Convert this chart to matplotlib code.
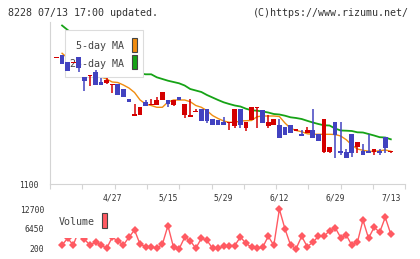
import matplotlib
matplotlib.use("Agg")
import matplotlib.pyplot as plt
import numpy as np
from matplotlib.patches import Rectangle

# ---------------- data ----------------
opens = [1226, 1229, 1222, 1221, 1227, 1207, 1208, 1212, 1202, 1201,
         1199, 1200, 1195, 1185, 1168, 1169, 1182, 1179, 1179, 1184,
         1184, 1179, 1187, 1169, 1167, 1172, 1175, 1175, 1165, 1164,
         1162, 1161, 1158, 1175, 1156, 1164, 1176, 1174, 1158, 1159,
         1159, 1157, 1159, 1153, 1150, 1151, 1154, 1150, 1132, 1132,
         1162, 1133, 1132, 1150, 1137, 1133, 1133, 1132, 1133, 1147,
         1132]
highs = [1227, 1229, 1222, 1222, 1227, 1207, 1209, 1214, 1206, 1206,
         1200, 1200, 1195, 1185, 1180, 1177, 1184, 1185, 1187, 1192,
         1184, 1184, 1187, 1180, 1185, 1175, 1175, 1175, 1165, 1164,
         1167, 1162, 1175, 1175, 1162, 1177, 1177, 1174, 1169, 1165,
         1165, 1157, 1159, 1155, 1154, 1157, 1175, 1150, 1165, 1137,
         1162, 1162, 1135, 1150, 1142, 1140, 1150, 1135, 1135, 1147,
         1133]
lows = [1226, 1220, 1213, 1221, 1212, 1193, 1198, 1199, 1199, 1200,
        1191, 1189, 1187, 1182, 1168, 1169, 1178, 1179, 1179, 1184,
        1177, 1178, 1184, 1166, 1167, 1172, 1163, 1161, 1159, 1159,
        1159, 1154, 1156, 1156, 1153, 1164, 1156, 1161, 1156, 1159,
        1146, 1149, 1151, 1153, 1148, 1151, 1146, 1143, 1131, 1131,
        1126, 1129, 1126, 1127, 1131, 1129, 1131, 1129, 1129, 1131,
        1131]
closes = [1227, 1220, 1213, 1222, 1216, 1203, 1209, 1199, 1199, 1204,
          1200, 1189, 1187, 1182, 1170, 1177, 1178, 1180, 1184, 1192,
          1180, 1184, 1184, 1180, 1169, 1173, 1163, 1163, 1159, 1159,
          1159, 1162, 1175, 1159, 1162, 1177, 1177, 1161, 1162, 1165,
          1146, 1149, 1151, 1155, 1148, 1154, 1146, 1143, 1165, 1137,
          1149, 1131, 1126, 1131, 1142, 1129, 1131, 1135, 1131, 1136,
          1133]
ma5 = [np.nan, 1230.7, 1226, 1222, 1219, 1215, 1212, 1209, 1207, 1205,
       1202, 1201.5, 1199, 1196, 1191.5, 1184, 1180, 1178.5, 1176.7, 1176.7,
       1182, 1184, 1184, 1184, 1182.3, 1178.5, 1176.7, 1173.3, 1168.5, 1165.5,
       1163, 1161.7, 1161.7, 1163, 1163.3, 1163.5, 1167.3, 1168, 1168, 1168,
       1167.5, 1161, 1155.7, 1153.5, 1152.3, 1150.2, 1149.7, 1149.7, 1149.7, 1149.7,
       1149.5, 1148, 1144.3, 1139, 1135, 1133.7, 1132.8, 1132.5, 1133.3, 1134,
       1132.8]
ma25 = [np.nan, 1258.5, 1254, 1250, 1246, 1242, 1238, 1234, 1231, 1228,
        1225, 1222, 1219, 1216, 1213, 1210.5, 1209.7, 1209.7, 1206.7, 1205,
        1203.3, 1202, 1200.7, 1198.5, 1195, 1193.5, 1192, 1189, 1186.5, 1184,
        1181.7, 1180, 1178.5, 1177.5, 1175.3, 1173.7, 1173.3, 1172.5, 1171.5, 1170,
        1169.5, 1168.3, 1166.7, 1166, 1165, 1163.2, 1161.5, 1160, 1158.7, 1158.5,
        1155.5, 1153.5, 1153.3, 1153, 1151.7, 1151.5, 1150, 1148.5, 1146.8, 1146.5,
        1144.7]
volume = [np.nan, 1313, 3444, 1313, 5765, 3126, 1313, 2172, 1313, 264,
          3762, 2585, 1313, 3762, 6083, 1536, 772, 772, 264, 1536,
          7450, 582, 41, 3762, 2680, 264, 3444, 2808, 264, 264,
          900, 1154, 1154, 3857, 1854, 582, 264, 582, 4080, 1218,
          12700, 6450, 1313, 136, 4080, 772, 2172, 4080, 4080, 5860,
          6878, 3698, 4493, 1218, 2172, 9263, 3444, 6942, 5352, 10122,
          4747]
date_labels = ["4/27", "5/15", "5/29", "6/12", "6/29", "7/13"]
date_label_idx = [10, 20, 30, 40, 50, 60]
price_ticks = [1100]
volume_ticks = [200, 6450, 12700]

# ---------------- style ----------------
plt.rcParams["font.family"] = ["DejaVu Sans Mono"]
RED = "#d40000"
BLUE = "#4242c0"
ORANGE = "#f08c10"
GREEN = "#16a316"
VOLC = "#ff5a62"
GRID = "#d4d4d4"
TXT = "#333333"

W, H = 420, 259
fig = plt.figure(figsize=(W / 100, H / 100), dpi=100)


def fx(px):
    return px / W


def fy(py):
    return 1 - py / H


ax = fig.add_axes([fx(50), fy(184), (405.3 - 50) / W, (184 - 22) / H])
vax = fig.add_axes([fx(50), fy(252), (405.3 - 50) / W, (252 - 203) / H])

n = len(closes)
x = np.arange(n)
o = np.array(opens, float)
c = np.array(closes, float)
hi = np.array(highs, float)
lo = np.array(lows, float)
colors = [RED if cc >= oo else BLUE for oo, cc in zip(o, c)]

# moving averages (below legend)
ax.plot(x, ma25, color=GREEN, lw=1.3, zorder=1)
ax.plot(x, ma5, color=ORANGE, lw=1.0, zorder=1.5)

# candles
ax.vlines(x, lo, hi, colors=colors, lw=1.1, zorder=5)
bottom = np.minimum(o, c)
height = np.maximum(np.abs(c - o), 1.0)
ax.bar(x, height, bottom=bottom, width=0.85, color=colors, linewidth=0, zorder=6)

xl = (-1.167, 62.6)
ax.set_xlim(*xl)
ax.set_ylim(1100, 1262)
ax.set_xticks(np.linspace(xl[0], xl[1], 12))
ax.set_xticklabels([])
ax.tick_params(axis="x", which="major", length=3.6, width=0.8, color=GRID)
ax.set_xticks(date_label_idx, minor=True)
ax.set_xticklabels(date_labels, minor=True, fontsize=5.8, color=TXT)
ax.tick_params(axis="x", which="minor", length=0, pad=7.0)
ax.set_yticks(price_ticks)
ax.set_yticklabels([str(t) for t in price_ticks], fontsize=5.8, color=TXT)
ax.tick_params(axis="y", length=0, pad=7.9)
for s in ["top", "right"]:
    ax.spines[s].set_visible(False)
for s in ["left", "bottom"]:
    ax.spines[s].set_color(GRID)
    ax.spines[s].set_linewidth(0.8)

# legend (main)
tf = fig.transFigure
ax.add_patch(Rectangle((fx(65), fy(77.3)), (143.3 - 65) / W, (77.3 - 30) / H,
                       transform=tf, fc="white", ec="#dcdcdc", lw=0.8,
                       zorder=3, clip_on=False))
ax.text(fx(124.5), fy(46), "5-day MA", transform=tf, ha="right", va="center",
        fontsize=7.2, color="#444444", zorder=4)
ax.text(fx(124.5), fy(63.5), "25-day MA", transform=tf, ha="right", va="center",
        fontsize=7.2, color="#444444", zorder=4)
ax.add_patch(Rectangle((fx(131.8), fy(52)), 5.6 / W, 14.5 / H, transform=tf,
                       fc=ORANGE, ec="#444444", lw=0.8, zorder=4, clip_on=False))
ax.add_patch(Rectangle((fx(131.8), fy(69.3)), 5.6 / W, 14.5 / H, transform=tf,
                       fc=GREEN, ec="#444444", lw=0.8, zorder=4, clip_on=False))

# volume
vax.plot(x, volume, color=VOLC, lw=1.0, marker="D", markersize=4.2,
         markeredgewidth=0, zorder=2)
vpp = 318.0
vax.set_xlim(*xl)
vax.set_ylim(200 - 3.5 * vpp, 200 + 45.5 * vpp)
vax.set_xticks([])
vax.set_yticks(volume_ticks)
vax.set_yticklabels([str(t) for t in volume_ticks], fontsize=5.8, color=TXT)
vax.tick_params(axis="y", length=0, pad=4.0)
for s in vax.spines.values():
    s.set_visible(False)
vax.patch.set_alpha(0)
vax.add_patch(Rectangle((fx(55), fy(237.5)), (116 - 55) / W, (237.5 - 206) / H,
                        transform=tf, fc="white", ec="none", zorder=3, clip_on=False))
vax.text(fx(59), fy(222), "Volume", transform=tf, ha="left", va="center",
         fontsize=7.2, color="#444444", zorder=4)
vax.add_patch(Rectangle((fx(101.5), fy(228.3)), 5.6 / W, 15 / H, transform=tf,
                        fc=VOLC, ec="#444444", lw=0.8, zorder=4, clip_on=False))

# header texts
fig.text(fx(8), fy(13.5), "8228 07/13 17:00 updated.", ha="left", va="center",
         fontsize=7.2, color=TXT)
fig.text(fx(409), fy(13.5), "(C)https://www.rizumu.net/", ha="right",
         va="center", fontsize=7.2, color=TXT)

fig.savefig("out.png", dpi=100)
